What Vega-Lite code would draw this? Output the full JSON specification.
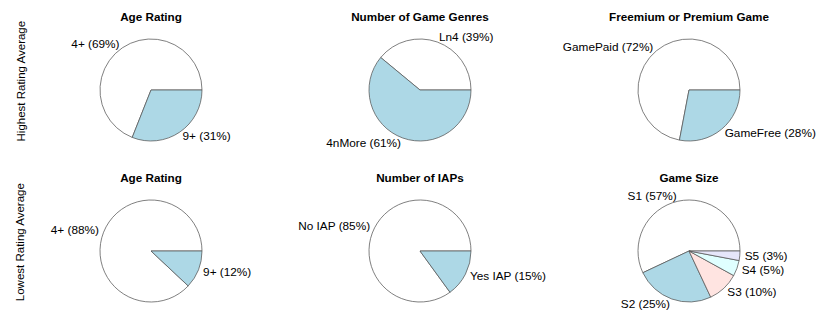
{
  "$schema": "https://vega.github.io/schema/vega-lite/v6.json",
  "padding": {"left": 15, "top": 12, "right": 0, "bottom": 0},
  "spacing": 23,
  "config": {
    "view": {"stroke": null},
    "font": "Liberation Sans",
    "title": {"fontSize": 11.7, "font": "Liberation Sans", "fontWeight": "bold", "color": "black", "offset": 6, "anchor": "middle"},
    "text": {"fontSize": 11.8, "font": "Liberation Sans", "color": "black"}
  },
  "datasets": {
    "p1": [{"i": 1, "cat": "4+", "pct": 69, "label": "4+ (69%)"}, {"i": 2, "cat": "9+", "pct": 31, "label": "9+ (31%)"}],
    "p2": [{"i": 1, "cat": "Ln4", "pct": 39, "label": "Ln4 (39%)"}, {"i": 2, "cat": "4nMore", "pct": 61, "label": "4nMore (61%)"}],
    "p3": [{"i": 1, "cat": "GamePaid", "pct": 72, "label": "GamePaid (72%)"}, {"i": 2, "cat": "GameFree", "pct": 28, "label": "GameFree (28%)"}],
    "p4": [{"i": 1, "cat": "4+", "pct": 88, "label": "4+ (88%)"}, {"i": 2, "cat": "9+", "pct": 12, "label": "9+ (12%)"}],
    "p5": [{"i": 1, "cat": "No IAP", "pct": 85, "label": "No IAP (85%)"}, {"i": 2, "cat": "Yes IAP", "pct": 15, "label": "Yes IAP (15%)"}],
    "p6": [{"i": 1, "cat": "S1", "pct": 57, "label": "S1 (57%)"}, {"i": 2, "cat": "S2", "pct": 25, "label": "S2 (25%)"}, {"i": 3, "cat": "S3", "pct": 10, "label": "S3 (10%)"}, {"i": 4, "cat": "S4", "pct": 5, "label": "S4 (5%)"}, {"i": 5, "cat": "S5", "pct": 3, "label": "S5 (3%)"}]
  },
  "vconcat": [
    {
      "title": {"text": "Highest Rating Average", "orient": "left", "fontWeight": "normal", "fontSize": 11.5, "offset": 24},
      "spacing": 69,
      "bounds": "flush",
      "hconcat": [
        {"width": 200, "height": 120, "title": "Age Rating", "data": {"name": "p1"},
          "encoding": {"theta": {"field": "pct", "type": "quantitative", "stack": true, "scale": {"domain": [0, 100], "range": [1.5707963, -4.712389]}}, "order": {"field": "i", "type": "ordinal"}},
          "layer": [
            {"mark": {"type": "arc", "radius": 51, "stroke": "#555", "strokeWidth": 0.75}, "encoding": {"color": {"field": "cat", "type": "nominal", "legend": null, "scale": {"domain": ["4+", "9+", "Ln4", "4nMore", "GamePaid", "GameFree", "No IAP", "Yes IAP", "S1", "S2", "S3", "S4", "S5"], "range": ["white", "#ADD8E6", "white", "#ADD8E6", "white", "#ADD8E6", "white", "#ADD8E6", "white", "#ADD8E6", "#FFE4E1", "#E0FFFF", "#E6E6FA"]}}}},
            {"mark": {"type": "text", "radius": 56, "align": "right", "baseline": "middle"}, "encoding": {"detail": {"field": "cat"}, "text": {"condition": {"test": "indexof(['4+','4nMore','GamePaid','No IAP','S1','S2'], datum.cat) >= 0", "field": "label"}, "value": ""}}},
            {"mark": {"type": "text", "radius": 56, "align": "left", "baseline": "middle"}, "encoding": {"detail": {"field": "cat"}, "text": {"condition": {"test": "indexof(['4+','4nMore','GamePaid','No IAP','S1','S2'], datum.cat) < 0", "field": "label"}, "value": ""}}}
          ]},
        {"width": 200, "height": 120, "title": "Number of Game Genres", "data": {"name": "p2"},
          "encoding": {"theta": {"field": "pct", "type": "quantitative", "stack": true, "scale": {"domain": [0, 100], "range": [1.5707963, -4.712389]}}, "order": {"field": "i", "type": "ordinal"}},
          "layer": [
            {"mark": {"type": "arc", "radius": 51, "stroke": "#555", "strokeWidth": 0.75}, "encoding": {"color": {"field": "cat", "type": "nominal", "legend": null, "scale": {"domain": ["4+", "9+", "Ln4", "4nMore", "GamePaid", "GameFree", "No IAP", "Yes IAP", "S1", "S2", "S3", "S4", "S5"], "range": ["white", "#ADD8E6", "white", "#ADD8E6", "white", "#ADD8E6", "white", "#ADD8E6", "white", "#ADD8E6", "#FFE4E1", "#E0FFFF", "#E6E6FA"]}}}},
            {"mark": {"type": "text", "radius": 56, "align": "right", "baseline": "middle"}, "encoding": {"detail": {"field": "cat"}, "text": {"condition": {"test": "indexof(['4+','4nMore','GamePaid','No IAP','S1','S2'], datum.cat) >= 0", "field": "label"}, "value": ""}}},
            {"mark": {"type": "text", "radius": 56, "align": "left", "baseline": "middle"}, "encoding": {"detail": {"field": "cat"}, "text": {"condition": {"test": "indexof(['4+','4nMore','GamePaid','No IAP','S1','S2'], datum.cat) < 0", "field": "label"}, "value": ""}}}
          ]},
        {"width": 200, "height": 120, "title": "Freemium or Premium Game", "data": {"name": "p3"},
          "encoding": {"theta": {"field": "pct", "type": "quantitative", "stack": true, "scale": {"domain": [0, 100], "range": [1.5707963, -4.712389]}}, "order": {"field": "i", "type": "ordinal"}},
          "layer": [
            {"mark": {"type": "arc", "radius": 51, "stroke": "#555", "strokeWidth": 0.75}, "encoding": {"color": {"field": "cat", "type": "nominal", "legend": null, "scale": {"domain": ["4+", "9+", "Ln4", "4nMore", "GamePaid", "GameFree", "No IAP", "Yes IAP", "S1", "S2", "S3", "S4", "S5"], "range": ["white", "#ADD8E6", "white", "#ADD8E6", "white", "#ADD8E6", "white", "#ADD8E6", "white", "#ADD8E6", "#FFE4E1", "#E0FFFF", "#E6E6FA"]}}}},
            {"mark": {"type": "text", "radius": 56, "align": "right", "baseline": "middle"}, "encoding": {"detail": {"field": "cat"}, "text": {"condition": {"test": "indexof(['4+','4nMore','GamePaid','No IAP','S1','S2'], datum.cat) >= 0", "field": "label"}, "value": ""}}},
            {"mark": {"type": "text", "radius": 56, "align": "left", "baseline": "middle"}, "encoding": {"detail": {"field": "cat"}, "text": {"condition": {"test": "indexof(['4+','4nMore','GamePaid','No IAP','S1','S2'], datum.cat) < 0", "field": "label"}, "value": ""}}}
          ]}
      ]
    },
    {
      "title": {"text": "Lowest Rating Average", "orient": "left", "fontWeight": "normal", "fontSize": 11.5, "offset": 24},
      "spacing": 69,
      "bounds": "flush",
      "hconcat": [
        {"width": 200, "height": 120, "title": "Age Rating", "data": {"name": "p4"},
          "encoding": {"theta": {"field": "pct", "type": "quantitative", "stack": true, "scale": {"domain": [0, 100], "range": [1.5707963, -4.712389]}}, "order": {"field": "i", "type": "ordinal"}},
          "layer": [
            {"mark": {"type": "arc", "radius": 51, "stroke": "#555", "strokeWidth": 0.75}, "encoding": {"color": {"field": "cat", "type": "nominal", "legend": null, "scale": {"domain": ["4+", "9+", "Ln4", "4nMore", "GamePaid", "GameFree", "No IAP", "Yes IAP", "S1", "S2", "S3", "S4", "S5"], "range": ["white", "#ADD8E6", "white", "#ADD8E6", "white", "#ADD8E6", "white", "#ADD8E6", "white", "#ADD8E6", "#FFE4E1", "#E0FFFF", "#E6E6FA"]}}}},
            {"mark": {"type": "text", "radius": 56, "align": "right", "baseline": "middle"}, "encoding": {"detail": {"field": "cat"}, "text": {"condition": {"test": "indexof(['4+','4nMore','GamePaid','No IAP','S1','S2'], datum.cat) >= 0", "field": "label"}, "value": ""}}},
            {"mark": {"type": "text", "radius": 56, "align": "left", "baseline": "middle"}, "encoding": {"detail": {"field": "cat"}, "text": {"condition": {"test": "indexof(['4+','4nMore','GamePaid','No IAP','S1','S2'], datum.cat) < 0", "field": "label"}, "value": ""}}}
          ]},
        {"width": 200, "height": 120, "title": "Number of IAPs", "data": {"name": "p5"},
          "encoding": {"theta": {"field": "pct", "type": "quantitative", "stack": true, "scale": {"domain": [0, 100], "range": [1.5707963, -4.712389]}}, "order": {"field": "i", "type": "ordinal"}},
          "layer": [
            {"mark": {"type": "arc", "radius": 51, "stroke": "#555", "strokeWidth": 0.75}, "encoding": {"color": {"field": "cat", "type": "nominal", "legend": null, "scale": {"domain": ["4+", "9+", "Ln4", "4nMore", "GamePaid", "GameFree", "No IAP", "Yes IAP", "S1", "S2", "S3", "S4", "S5"], "range": ["white", "#ADD8E6", "white", "#ADD8E6", "white", "#ADD8E6", "white", "#ADD8E6", "white", "#ADD8E6", "#FFE4E1", "#E0FFFF", "#E6E6FA"]}}}},
            {"mark": {"type": "text", "radius": 56, "align": "right", "baseline": "middle"}, "encoding": {"detail": {"field": "cat"}, "text": {"condition": {"test": "indexof(['4+','4nMore','GamePaid','No IAP','S1','S2'], datum.cat) >= 0", "field": "label"}, "value": ""}}},
            {"mark": {"type": "text", "radius": 56, "align": "left", "baseline": "middle"}, "encoding": {"detail": {"field": "cat"}, "text": {"condition": {"test": "indexof(['4+','4nMore','GamePaid','No IAP','S1','S2'], datum.cat) < 0", "field": "label"}, "value": ""}}}
          ]},
        {"width": 200, "height": 120, "title": "Game Size", "data": {"name": "p6"},
          "encoding": {"theta": {"field": "pct", "type": "quantitative", "stack": true, "scale": {"domain": [0, 100], "range": [1.5707963, -4.712389]}}, "order": {"field": "i", "type": "ordinal"}},
          "layer": [
            {"mark": {"type": "arc", "radius": 51, "stroke": "#555", "strokeWidth": 0.75}, "encoding": {"color": {"field": "cat", "type": "nominal", "legend": null, "scale": {"domain": ["4+", "9+", "Ln4", "4nMore", "GamePaid", "GameFree", "No IAP", "Yes IAP", "S1", "S2", "S3", "S4", "S5"], "range": ["white", "#ADD8E6", "white", "#ADD8E6", "white", "#ADD8E6", "white", "#ADD8E6", "white", "#ADD8E6", "#FFE4E1", "#E0FFFF", "#E6E6FA"]}}}},
            {"mark": {"type": "text", "radius": 56, "align": "right", "baseline": "middle"}, "encoding": {"detail": {"field": "cat"}, "text": {"condition": {"test": "indexof(['4+','4nMore','GamePaid','No IAP','S1','S2'], datum.cat) >= 0", "field": "label"}, "value": ""}}},
            {"mark": {"type": "text", "radius": 56, "align": "left", "baseline": "middle"}, "encoding": {"detail": {"field": "cat"}, "text": {"condition": {"test": "indexof(['4+','4nMore','GamePaid','No IAP','S1','S2'], datum.cat) < 0", "field": "label"}, "value": ""}}}
          ]}
      ]
    }
  ]
}
